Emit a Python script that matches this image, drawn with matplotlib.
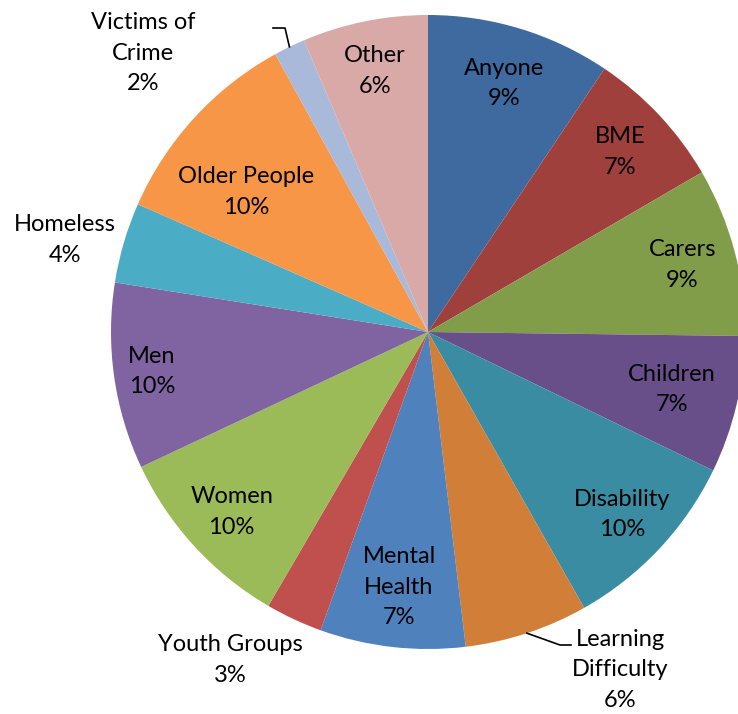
import matplotlib
matplotlib.use("Agg")
import matplotlib.pyplot as plt
import numpy as np

# ---- data ----
categories = ["Anyone", "BME", "Carers", "Children", "Disability", "Learning\nDifficulty",
              "Mental\nHealth", "Youth Groups", "Women", "Men", "Homeless", "Older People",
              "Victims of\nCrime", "Other"]
values = [9.4, 7.2, 8.6, 7.0, 9.6, 6.3, 7.4, 2.9, 9.6, 9.5, 4.1, 10.4, 1.6, 6.4]
pct_labels = ["9%", "7%", "9%", "7%", "10%", "6%", "7%", "3%", "10%", "10%", "4%", "10%", "2%", "6%"]
colors = ["#3F6A9F", "#A0403D", "#829D4A", "#684F8A", "#3A8CA3", "#D07E38",
          "#4F81BD", "#C0504D", "#9BBB59", "#8064A2", "#4BACC6", "#F79646",
          "#A9B9DA", "#D9A9A8"]

# ---- layout (pixels, origin top-left) ----
W, H = 738, 714
CX, CY, R = 428, 332, 317
inside_r = [0.82, 0.83, 0.83, 0.79, 0.84, None, 0.81, None, 0.84, 0.88, None, None, None, 0.84]
fixed_pos = {5: (620, 670), 7: (230, 660), 10: (65, 240), 11: (246, 192), 12: (143, 53)}
leaders = {12: [(285, 28), (273, 28)], 5: [(560, 645), (571, 645)]}

plt.rcParams['font.family'] = ['Lato', 'DejaVu Sans']
fig = plt.figure(figsize=(W / 100, H / 100), dpi=100)
ax = fig.add_axes([0, 0, 1, 1])
wedges, _ = ax.pie(values, colors=colors, startangle=90, counterclock=False,
                   center=(CX, H - CY), radius=R, wedgeprops=dict(linewidth=0))
ax.set_xlim(0, W)
ax.set_ylim(0, H)
ax.set_aspect('equal')
ax.axis('off')

fs = 17
for i, w in enumerate(wedges):
    text = categories[i] + "\n" + pct_labels[i]
    mid = np.deg2rad((w.theta1 + w.theta2) / 2)
    if inside_r[i] is not None:
        x = CX + inside_r[i] * R * np.cos(mid)
        y = (H - CY) + inside_r[i] * R * np.sin(mid)
    else:
        px, py = fixed_pos[i]
        x, y = px, H - py
    ax.text(x, y, text, ha='center', va='center', fontsize=fs, color='black',
            linespacing=1.55, multialignment='center')
    if i in leaders:
        ex = CX + R * np.cos(mid)
        ey = (H - CY) + R * np.sin(mid)
        pts = [(ex, ey)] + [(px, H - py) for px, py in leaders[i]]
        xs, ys = zip(*pts)
        ax.plot(xs, ys, color='black', linewidth=1.2)

fig.savefig("out.png", dpi=100)
